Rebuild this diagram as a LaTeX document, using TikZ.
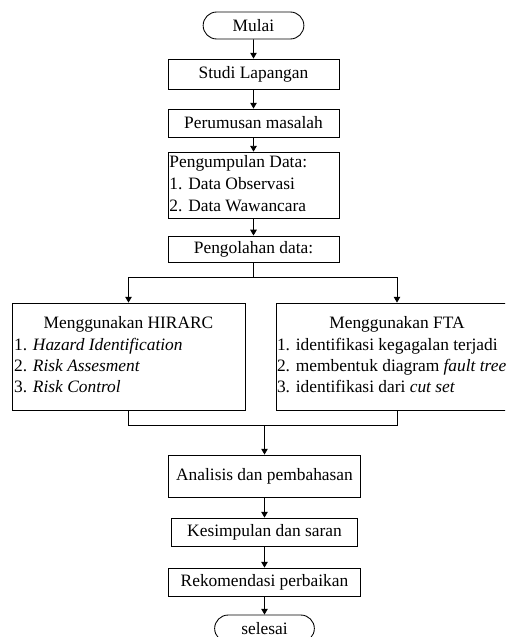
\documentclass[tikz,border=0pt]{standalone}
\usepackage{fontspec}
\setmainfont{Liberation Serif}
\usepackage{tikz}
\usetikzlibrary{shapes.misc}
\usetikzlibrary{arrows.meta}
\tikzstyle{kotak}=[draw, line width=0.6pt, inner sep=1.5pt, font=\fontsize{12}{14.5}\selectfont]
\tikzstyle{ujung}=[kotak, rounded rectangle]
\tikzstyle{panah}=[-{Triangle[length=4pt, width=4.5pt]}, line width=0.6pt]
\tikzstyle{garis}=[line width=0.6pt]

\begin{document}
\begin{tikzpicture}[x=0.69pt, y=-0.69pt]
        \useasboundingbox (0, 0) rectangle (505, 637);
        \clip (0, 0) rectangle (505, 637);
        \node[ujung, minimum width=72.5pt, minimum height=18.6pt] (mulai) at (253.5, 25.5) {Mulai};
        \node[kotak, minimum width=118pt, minimum height=20.7pt] (studi) at (253.5, 74) {Studi Lapangan};
        \node[kotak, minimum width=118pt, minimum height=19.3pt] (rumusan) at (253.5, 123) {Perumusan masalah};
        \node[kotak, minimum width=118pt, minimum height=43.5pt, inner sep=0.7pt] (kumpul) at (253.5, 185.5) {\begin{tabular}{@{}p{116pt}@{}}
            Pengumpulan Data:\\[0.6pt] 1. Data Observasi\\[0.6pt] 2. Data Wawancara
            \end{tabular}};
        \node[kotak, minimum width=118pt, minimum height=18pt] (olah) at (253.5, 249) {Pengolahan data:};
        \node[kotak, minimum width=160.8pt, minimum height=73.8pt] (hirarc) at (128.5, 356.5) {\begin{tabular}{@{}p{157.8pt}@{}}
            \multicolumn{1}{@{}c@{}}{Menggunakan HIRARC}\\[1pt]
            1. \textit{Hazard Identification}\\ 2. \textit{Risk Assesment}\\ 3. \textit{Risk Control}
            \end{tabular}};
        \node[kotak, minimum width=167pt, minimum height=73.8pt, inner sep=0.7pt] (fta) at (397, 356.5) {\begin{tabular}{@{}p{165.6pt}@{}}
            \multicolumn{1}{@{}c@{}}{Menggunakan FTA}\\[1pt]
            1. identifikasi kegagalan terjadi\\ 2. membentuk diagram \textit{fault tree}\\ 3. identifikasi dari \textit{cut set}
            \end{tabular}};
        \node[kotak, minimum width=132.5pt, minimum height=29pt] (analisis) at (264.5, 476) {Analisis dan pembahasan};
        \node[kotak, minimum width=128.3pt, minimum height=19.3pt] (simpulan) at (264.5, 532) {Kesimpulan dan saran};
        \node[kotak, minimum width=132.5pt, minimum height=19.3pt] (rekomendasi) at (264.5, 582) {Rekomendasi perbaikan};
        \node[ujung, minimum width=71.8pt, minimum height=18.6pt] (selesai) at (264.5, 628.5) {selesai};
        \coordinate (cabang) at (253.5, 277);
        \coordinate (gabung) at (264.5, 425);
        \draw[panah] (mulai) -- (studi);
        \draw[panah] (studi) -- (rumusan);
        \draw[panah] (rumusan) -- (kumpul);
        \draw[panah] (kumpul) -- (olah);
        \draw[garis] (olah) -- (cabang);
        \draw[panah] (cabang) -| (hirarc.north);
        \draw[panah] (cabang) -| (fta.north);
        \draw[garis] (hirarc.south) |- (gabung);
        \draw[garis] (fta.south) |- (gabung);
        \draw[panah] (gabung) -- (analisis);
        \draw[panah] (analisis) -- (simpulan);
        \draw[panah] (simpulan) -- (rekomendasi);
        \draw[panah] (rekomendasi) -- (selesai);
    \end{tikzpicture}
\end{document}
